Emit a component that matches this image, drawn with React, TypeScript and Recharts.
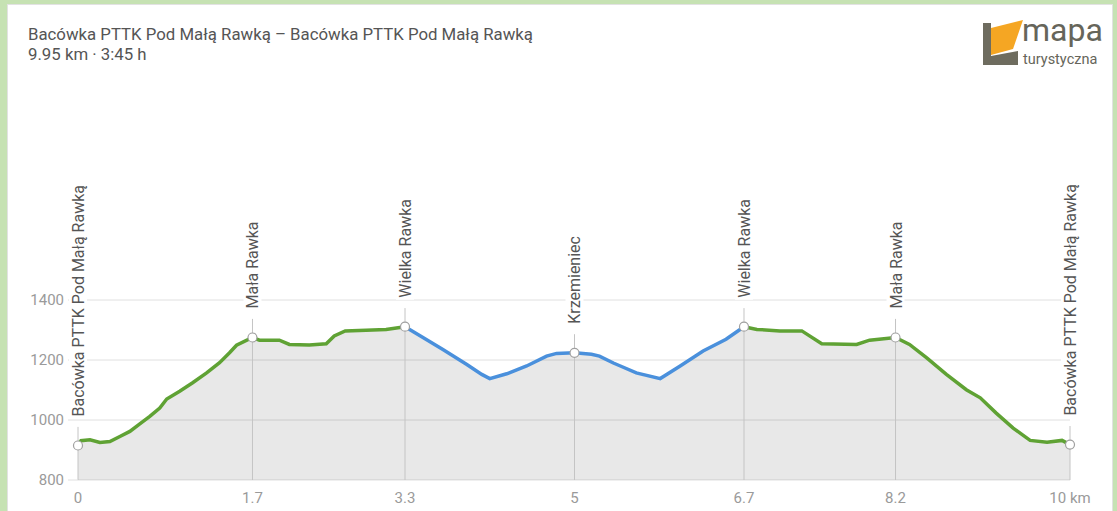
import React from 'react';
import {
  ComposedChart,
  Area,
  Line,
  Scatter,
  XAxis,
  YAxis,
  CartesianGrid,
  ReferenceLine,
} from 'recharts';

// profile: distance (km) and elevation (m)
const distanceKm = [
  0, 0.03, 0.12, 0.22, 0.32, 0.42, 0.52, 0.62, 0.72, 0.82, 0.89, 1.02, 1.15, 1.29, 1.42, 1.52, 1.59,
  1.75, 1.82, 2.02, 2.12, 2.32, 2.49, 2.57, 2.68, 2.89, 3.09, 3.28,
  3.46, 3.66, 3.9, 4.05, 4.13, 4.3, 4.5, 4.7, 4.8, 4.98,
  5.15, 5.23, 5.37, 5.44, 5.6, 5.84, 6.04, 6.27, 6.5, 6.68,
  6.81, 7.04, 7.26, 7.46, 7.81, 7.94, 8.2,
  8.34, 8.51, 8.71, 8.91, 9.05, 9.21, 9.38, 9.55, 9.72, 9.87, 9.95,
];
const elevationM = [
  915, 931, 934, 925, 928, 945, 962, 987, 1012, 1040, 1070, 1096, 1124, 1157, 1191, 1224, 1249,
  1275, 1266, 1266, 1252, 1250, 1254, 1280, 1297, 1299, 1302, 1311,
  1275, 1235, 1185, 1152, 1138, 1154, 1180, 1213, 1222, 1224,
  1219, 1213, 1190, 1180, 1157, 1138, 1180, 1230, 1269, 1311,
  1302, 1297, 1297, 1254, 1252, 1266, 1275,
  1252, 1208, 1152, 1101, 1074, 1023, 973, 932, 926, 932, 918,
];
// part of the route drawn in blue
const blueFromKm = 3.28;
const blueToKm = 6.68;

const waypointNames = [
  'Bacówka PTTK Pod Małą Rawką',
  'Mała Rawka',
  'Wielka Rawka',
  'Krzemieniec',
  'Wielka Rawka',
  'Mała Rawka',
  'Bacówka PTTK Pod Małą Rawką',
];
const waypointKm = [0, 1.75, 3.28, 4.98, 6.68, 8.2, 9.95];
const waypointElev = [915, 1275, 1311, 1224, 1311, 1275, 918];
const xTickLabels = ['0', '1.7', '3.3', '5', '6.7', '8.2', '10 km'];
const yTicks = [800, 1000, 1200, 1400];

const GREEN = '#5fa234';
const BLUE = '#4a90dc';

const profile = distanceKm.map((km, i) => {
  const inBlue = km >= blueFromKm && km <= blueToKm;
  const onEdge = km === blueFromKm || km === blueToKm;
  return {
    km,
    elev: elevationM[i],
    green: !inBlue || onEdge ? elevationM[i] : null,
    blue: inBlue ? elevationM[i] : null,
  };
});

const waypoints = waypointKm.map((km, i) => ({ km, elev: waypointElev[i], name: waypointNames[i] }));

const WaypointMark = (props: any) => {
  const { cx, cy, payload } = props;
  const labelBottom = cy - 29;
  const approxLen = payload.name.length * 8.9;
  return (
    <g>
      <rect x={cx - 9} y={labelBottom - approxLen - 2} width={18} height={approxLen + 4} fill="#fff" />
      <text
        transform={`translate(${cx + 6},${labelBottom}) rotate(-90)`}
        textAnchor="start"
        fontSize={16}
        fill="#555"
        fontFamily="Roboto, sans-serif"
      >
        {payload.name}
      </text>
      <circle cx={cx} cy={cy} r={4.5} fill="#fff" stroke="#a0a0a0" strokeWidth={1.2} />
    </g>
  );
};

const Logo = () => (
  <svg width={140} height={62} style={{ position: 'absolute', left: 975, top: 8 }}>
    <rect x={8} y={15} width={8} height={42} fill="#6e6c5f" />
    <polygon points="16,48 43,43 43,57 16,57" fill="#6e6c5f" />
    <polygon points="16,20 48,12 38,41 16,47" fill="#f5a623" />
    <text x={47} y={33} fontSize={32} fill="#66655a" fontFamily="Roboto, sans-serif">
      mapa
    </text>
    <text x={48} y={56} fontSize={14.5} fill="#66655a" fontFamily="Roboto, sans-serif">
      turystyczna
    </text>
  </svg>
);

export default function App() {
  return (
    <div
      style={{
        position: 'absolute',
        left: 0,
        top: 0,
        width: 1117,
        height: 511,
        background: '#c6e2b3',
        overflow: 'hidden',
        fontFamily: 'Roboto, sans-serif',
      }}
    >
      <div
        style={{
          position: 'absolute',
          left: 7,
          top: 4,
          width: 1104,
          height: 520,
          background: '#fff',
          border: '1px solid #e2e2e2',
        }}
      />
      <div
        style={{
          position: 'absolute',
          left: 28,
          top: 24,
          fontSize: 16.8,
          lineHeight: '20px',
          color: '#555',
        }}
      >
        <div>Bacówka PTTK Pod Małą Rawką – Bacówka PTTK Pod Małą Rawką</div>
        <div>9.95 km · 3:45 h</div>
      </div>
      <Logo />
      <div style={{ position: 'absolute', left: 0, top: 0 }}>
        <ComposedChart
          width={1117}
          height={511}
          data={profile}
          margin={{ top: 300, right: 47, left: 18, bottom: 0 }}
        >
          <CartesianGrid horizontal vertical={false} stroke="#e0e0e0" />
          <XAxis
            dataKey="km"
            type="number"
            domain={[0, 9.95]}
            ticks={waypointKm}
            tickFormatter={(v: number) => xTickLabels[waypointKm.indexOf(v)] ?? ''}
            axisLine={false}
            tickLine={false}
            tickSize={0}
            tickMargin={12}
            height={31}
            interval={0}
            tick={{ fill: '#9a9a9a', fontSize: 15 }}
          />
          <YAxis
            type="number"
            domain={[800, 1400]}
            ticks={yTicks}
            axisLine={false}
            tickLine={{ stroke: '#e0e0e0' }}
            tickSize={10}
            tickMargin={4}
            width={60}
            tick={{ fill: '#9a9a9a', fontSize: 15 }}
          />
          <Area
            dataKey="elev"
            type="linear"
            stroke="none"
            fill="#000"
            fillOpacity={0.09}
            isAnimationActive={false}
          />
          {waypoints.map((w, i) => (
            <ReferenceLine
              key={i}
              segment={[
                { x: w.km, y: 800 },
                { x: w.km, y: w.elev + 62 },
              ]}
              stroke="#c4c4c4"
              strokeWidth={1}
              ifOverflow="visible"
            />
          ))}
          <Line
            dataKey="green"
            type="linear"
            stroke={GREEN}
            strokeWidth={3.5}
            dot={false}
            activeDot={false}
            connectNulls={false}
            isAnimationActive={false}
          />
          <Line
            dataKey="blue"
            type="linear"
            stroke={BLUE}
            strokeWidth={3.5}
            dot={false}
            activeDot={false}
            connectNulls={false}
            isAnimationActive={false}
          />
          <Scatter
            data={waypoints}
            dataKey="elev"
            shape={<WaypointMark />}
            isAnimationActive={false}
          />
        </ComposedChart>
      </div>
    </div>
  );
}
